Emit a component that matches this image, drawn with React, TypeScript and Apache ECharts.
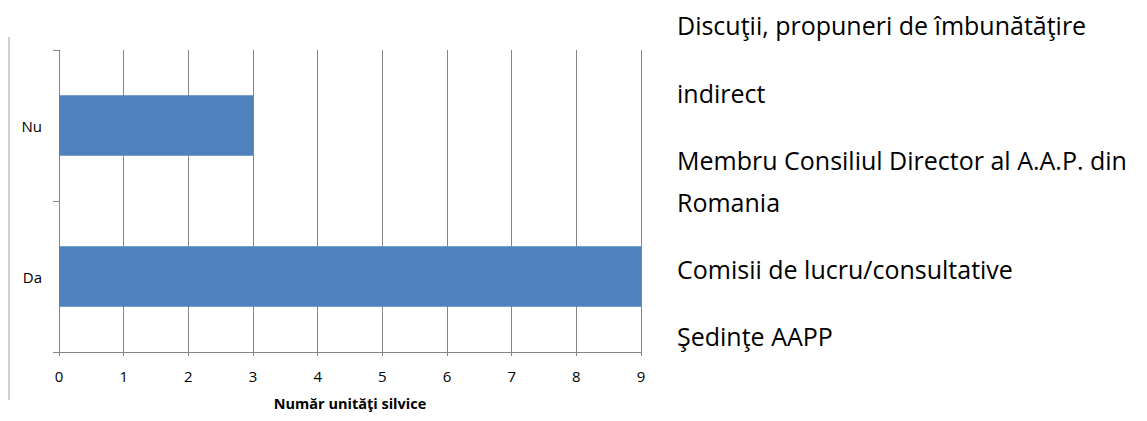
import React, { useEffect, useRef } from "react";
import * as echarts from "echarts";

const categories = ["Da", "Nu"];
const values = [9, 3];
const xTicks = [0, 1, 2, 3, 4, 5, 6, 7, 8, 9];
const axisTitle = "Număr unităţi silvice";
const sideNotes = [
  "Discuţii, propuneri de îmbunătăţire",
  "indirect",
  "Membru Consiliul Director al A.A.P. din",
  "Romania",
  "Comisii de lucru/consultative",
  "Şedinţe AAPP",
];
const sideNoteY = [25, 93, 160, 202, 269, 336];

export default function App() {
  const ref = useRef<HTMLDivElement>(null);
  useEffect(() => {
    if (!ref.current) return;
    const chart = echarts.init(ref.current, undefined, { renderer: "svg" });
    const font = "'Open Sans', 'Noto Sans', sans-serif";
    chart.setOption({
      animation: false,
      backgroundColor: "#ffffff",
      grid: { left: 59, right: 506, top: 50, bottom: 69 },
      xAxis: {
        type: "value",
        min: xTicks[0],
        max: xTicks[xTicks.length - 1],
        interval: 1,
        name: axisTitle,
        nameLocation: "middle",
        nameGap: 44,
        nameTextStyle: { fontFamily: font, fontSize: 14.5, fontWeight: "bold", color: "#000" },
        axisLine: { show: true, lineStyle: { color: "#868686", width: 1 } },
        axisTick: { show: true, length: 4, lineStyle: { color: "#868686" } },
        axisLabel: { fontFamily: font, fontSize: 15, color: "#000", margin: 16 },
        splitLine: { show: true, lineStyle: { color: "#868686", width: 1 } },
      },
      yAxis: {
        type: "category",
        data: categories,
        axisLine: { show: true, lineStyle: { color: "#868686", width: 1 } },
        axisTick: { show: true, length: 6, lineStyle: { color: "#868686" } },
        axisLabel: { fontFamily: font, fontSize: 15, color: "#000", margin: 17 },
        splitLine: { show: false },
      },
      series: [
        {
          type: "bar",
          data: values,
          barCategoryGap: "60%",
          itemStyle: { color: "#4F81BD" },
        },
      ],
      graphic: [
        {
          type: "line",
          shape: { x1: 9, y1: 37, x2: 9, y2: 400 },
          style: { stroke: "#a0a0a0", lineWidth: 1 },
        },
        ...sideNotes.map((t, i) => ({
          type: "text",
          x: 677,
          y: sideNoteY[i],
          style: {
            text: t,
            fontFamily: font,
            fontSize: 25,
            fill: "#000",
            verticalAlign: "middle",
          },
        })),
      ],
    });
    return () => chart.dispose();
  }, []);
  return (
    <div
      ref={ref}
      style={{ position: "absolute", left: 0, top: 0, width: 1147, height: 421 }}
    />
  );
}
